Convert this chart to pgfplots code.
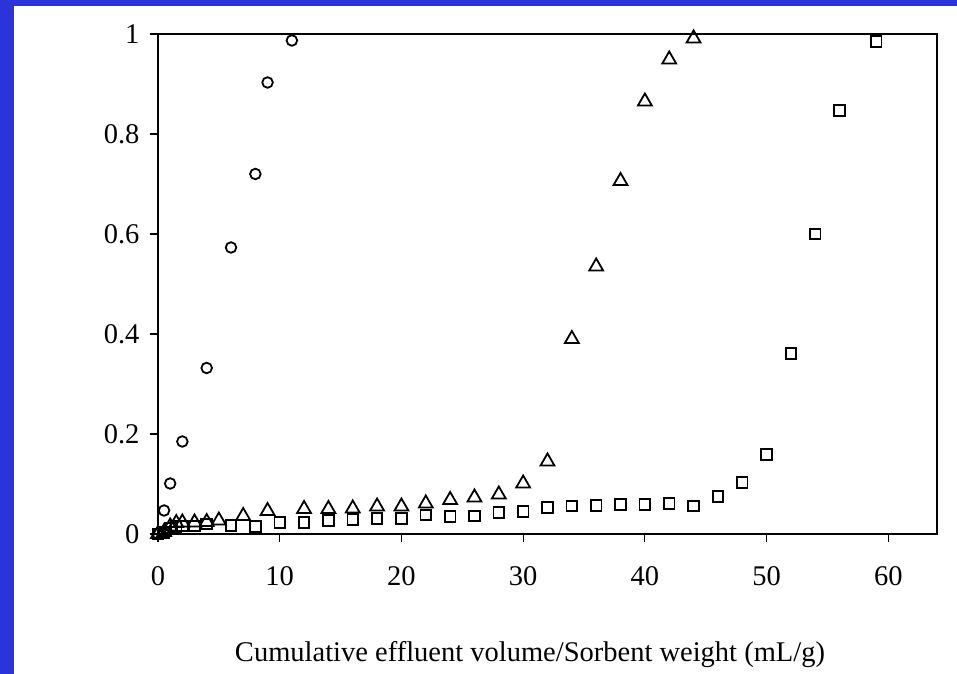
\documentclass[border=0pt]{standalone}
\usepackage{pgfplots}
\pgfplotsset{compat=1.18}
\usepackage{fontspec}
\setmainfont{Liberation Serif}
\definecolor{frameblue}{RGB}{42,52,218}
\begin{document}
\begin{tikzpicture}[x=1bp,y=1bp]
\useasboundingbox (0,0) rectangle (957,674);
\fill[white] (0,0) rectangle (957,674);
\fill[frameblue] (0,0) rectangle (14,674);
\fill[frameblue] (0,668) rectangle (957,674);
\begin{axis}[
  at={(158bp,140bp)}, anchor=south west,
  width=779bp, height=500bp, scale only axis,
  xmin=0, xmax=64, ymin=0, ymax=1,
  xtick={0,10,20,30,40,50,60}, ytick={0,0.2,0.4,0.6,0.8,1},
  tick pos=left, tick align=outside,
  major tick length=8bp,
  axis line style={line width=1.5bp},
  tick style={line width=1.1bp, black},
  clip=false,
  tick label style={font=\fontsize{28.5bp}{33bp}\selectfont},
  /pgf/number format/assume math mode=true,
  xticklabel style={yshift=-21bp},
  yticklabel style={xshift=-7bp},
  xlabel={Cumulative effluent volume/Sorbent weight (mL/g)},
  xlabel style={font=\fontsize{28.5bp}{33bp}\selectfont, at={(axis description cs:0.4775,-0.242)}, anchor=center},
]
\addplot[only marks, mark=o, mark size=5.3bp, mark options={line width=1.8bp, black}] coordinates {
(0,0) (0.5,0.047) (1,0.101) (2,0.185) (4,0.332) (6,0.573) (8,0.72) (9,0.903) (11,0.987)
};
\addplot[only marks, mark=triangle, mark size=8bp, mark options={line width=1.8bp, black}] coordinates {
(0,0) (0.5,0.004) (1,0.015) (1.5,0.022) (2,0.023) (3,0.023) (4,0.024) (5,0.027) (7,0.036) (9,0.046)
(12,0.05) (14,0.05) (16,0.051) (18,0.055) (20,0.055) (22,0.061) (24,0.068) (26,0.073) (28,0.079)
(30,0.101) (32,0.145) (34,0.39) (36,0.535) (38,0.706) (40,0.865) (42,0.949) (44,0.991)
};
\addplot[only marks, mark=square, mark size=5.3bp, mark options={line width=1.8bp, black}] coordinates {
(0,0) (0.5,0.003) (1,0.012) (1.5,0.015) (2,0.016) (3,0.016) (4,0.02) (6,0.017) (8,0.015) (10,0.023)
(12,0.023) (14,0.027) (16,0.029) (18,0.031) (20,0.031) (22,0.038) (24,0.035) (26,0.036) (28,0.043)
(30,0.045) (32,0.053) (34,0.056) (36,0.057) (38,0.059) (40,0.059) (42,0.061) (44,0.056) (46,0.075)
(48,0.103) (50,0.159) (52,0.361) (54,0.6) (56,0.847) (59,0.985)
};
\end{axis}
\end{tikzpicture}
\end{document}
